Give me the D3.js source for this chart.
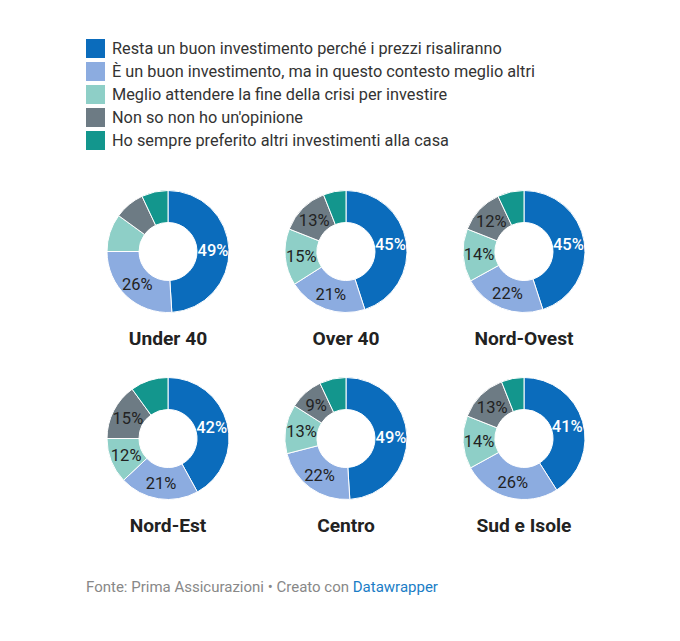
<!DOCTYPE html>
<html>
<head>
<meta charset="utf-8">
<script src="https://cdn.jsdelivr.net/npm/d3@7"></script>
<style>
  html, body { margin: 0; padding: 0; background: #fff; }
  svg { display: block; font-family: Roboto, "Noto Sans", sans-serif; }
</style>
</head>
<body>
<svg id="chart" width="680" height="641"></svg>
<script>
const categories = [
  "Resta un buon investimento perché i prezzi risaliranno",
  "È un buon investimento, ma in questo contesto meglio altri",
  "Meglio attendere la fine della crisi per investire",
  "Non so non ho un'opinione",
  "Ho sempre preferito altri investimenti alla casa"
];
const colors = ["#0b6cbc", "#8cace0", "#8ecfc7", "#6d7b84", "#13968d"];
const groups = ["Under 40", "Over 40", "Nord-Ovest", "Nord-Est", "Centro", "Sud e Isole"];
const under40   = [49, 26, 10, 8, 7];
const over40    = [45, 21, 15, 13, 6];
const nordOvest = [45, 22, 14, 12, 7];
const nordEst   = [42, 21, 12, 15, 10];
const centro    = [49, 22, 13, 9, 7];
const sudIsole  = [41, 26, 14, 13, 6];
const seriesValues = [under40, over40, nordOvest, nordEst, centro, sudIsole];
const showLabels = [
  [true, true, false, false, false],
  [true, true, true, true, false],
  [true, true, true, true, false],
  [true, true, true, true, false],
  [true, true, true, true, false],
  [true, true, true, true, false]
];

const svg = d3.select("#chart");

// Legend
const legend = svg.append("g").attr("transform", "translate(86,39)");
categories.forEach((c, i) => {
  const g = legend.append("g").attr("transform", `translate(0,${i * 23})`);
  g.append("rect").attr("width", 19).attr("height", 19).attr("fill", colors[i]);
  g.append("text").attr("x", 26).attr("y", 15)
    .attr("font-size", 16.3).attr("fill", "#333").text(c);
});

// Donuts
const colX = d3.scalePoint().domain([0, 1, 2]).range([168, 524]);
const rowY = d3.scalePoint().domain([0, 1]).range([251.5, 438.5]);
const outerR = 61, innerR = 29;
const pie = d3.pie().sort(null).value(d => d);
const arc = d3.arc().innerRadius(innerR).outerRadius(outerR);
const labelArc = d3.arc().innerRadius(45).outerRadius(45);
const color = d3.scaleOrdinal().domain(d3.range(5)).range(colors);

groups.forEach((name, gi) => {
  const cx = colX(gi % 3), cy = rowY(Math.floor(gi / 3));
  const g = svg.append("g").attr("transform", `translate(${cx},${cy})`);
  const arcs = pie(seriesValues[gi]);
  g.selectAll("path").data(arcs).enter().append("path")
    .attr("d", arc)
    .attr("fill", (d, i) => color(i))
    .attr("stroke", "#fff").attr("stroke-width", 1);
  g.selectAll("text.lbl").data(arcs).enter()
    .filter((d, i) => showLabels[gi][i])
    .append("text").attr("class", "lbl")
    .attr("transform", d => `translate(${labelArc.centroid(d)})`)
    .attr("text-anchor", "middle").attr("dy", "0.36em")
    .attr("font-size", 16.5)
    .attr("font-weight", (d, i) => i === 0 ? 500 : 400)
    .attr("fill", (d, i) => i === 0 ? "#fff" : "#222")
    .text(d => d.data + "%");
  svg.append("text")
    .attr("x", cx).attr("y", cy + 93)
    .attr("text-anchor", "middle").attr("font-size", 19.2)
    .attr("font-weight", 700).attr("fill", "#222").text(name);
});

// Footer
const foot = svg.append("text").attr("x", 86).attr("y", 592)
  .attr("font-size", 15).attr("fill", "#888");
foot.append("tspan").text("Fonte: Prima Assicurazioni • Creato con ");
foot.append("tspan").attr("fill", "#1a7dc6").text("Datawrapper");
</script>
</body>
</html>
